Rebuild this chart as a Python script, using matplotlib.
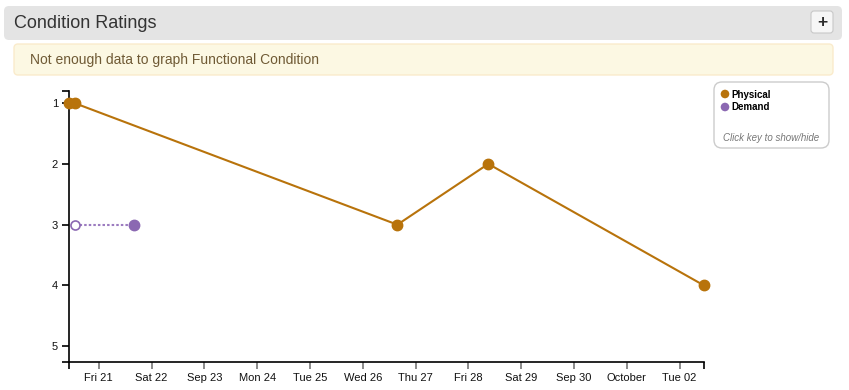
import matplotlib
matplotlib.use("Agg")
import matplotlib.pyplot as plt
import matplotlib.dates as mdates
from matplotlib.patches import FancyBboxPatch, Circle
import pandas as pd

plt.rcParams['font.family'] = ['Liberation Sans', 'DejaVu Sans']

# data
physical_dates = pd.to_datetime(['2018-09-20 10:30', '2018-09-20 13:05', '2018-09-26 15:45',
                                 '2018-09-28 09:05', '2018-10-02 11:08'])
physical_vals = [1, 1, 3, 2, 4]
demand_dates = pd.to_datetime(['2018-09-20 13:05', '2018-09-21 15:55'])
demand_vals = [3, 3]
tick_dates = pd.date_range('2018-09-21', '2018-10-02', freq='D')
tick_labels = ['Fri 21', 'Sat 22', 'Sep 23', 'Mon 24', 'Tue 25', 'Wed 26', 'Thu 27',
               'Fri 28', 'Sat 29', 'Sep 30', 'October', 'Tue 02']
y_ticks = [1, 2, 3, 4, 5]

c_phys = '#b8730b'
c_dem = '#8b68b2'

W, H = 849, 390
fig = plt.figure(figsize=(W / 100, H / 100), dpi=100)

# page decoration in pixel coords
bg = fig.add_axes([0, 0, 1, 1], zorder=0)
bg.set_xlim(0, W)
bg.set_ylim(H, 0)
bg.axis('off')
bg.add_patch(FancyBboxPatch((4, 6), 838, 34, boxstyle='round,pad=0,rounding_size=5',
                            fc='#e4e4e4', ec='none'))
bg.text(14, 23, 'Condition Ratings', fontsize=13, color='#333333', va='center')
bg.add_patch(FancyBboxPatch((811, 11), 22, 22, boxstyle='round,pad=0,rounding_size=3',
                            fc='#f6f6f6', ec='#c8c8c8', lw=0.8))
bg.text(822, 22, '+', fontsize=12.5, fontweight='bold', color='#2a2a2a', ha='center', va='center')
bg.add_patch(FancyBboxPatch((14, 44), 819, 31, boxstyle='round,pad=0,rounding_size=4',
                            fc='#fcf8e3', ec='#faebcc', lw=1))
bg.text(30, 60, 'Not enough data to graph Functional Condition', fontsize=10,
        color='#6f5a35', va='center')

# legend box
bg.add_patch(FancyBboxPatch((714, 82), 115, 66, boxstyle='round,pad=0,rounding_size=8',
                            fc='white', ec='#cccccc', lw=1))
bg.add_patch(Circle((725, 94), 4.3, fc=c_phys, ec='none'))
bg.text(731, 94.5, 'Physical', fontsize=7, fontweight='bold', color='black', va='center')
bg.add_patch(Circle((725, 107), 4.3, fc=c_dem, ec='none'))
bg.text(731, 107.5, 'Demand', fontsize=7, fontweight='bold', color='black', va='center')
bg.text(771, 138, 'Click key to show/hide', fontsize=7, style='italic', color='#777777',
        ha='center', va='center')

# chart
ax = fig.add_axes([69 / W, 1 - 362 / H, (704 - 69) / W, (362 - 91) / H], zorder=1)
ax.patch.set_alpha(0)
ax.plot(physical_dates, physical_vals, color=c_phys, lw=1.5, marker='o', ms=7.5,
        mec=c_phys, mfc=c_phys, clip_on=False, zorder=3)
ax.plot(demand_dates, demand_vals, color='#9c7cc0', lw=1.5, ls=(0, (1.2, 1)), clip_on=False, zorder=2)
ax.plot(demand_dates[:1], demand_vals[:1], 'o', ms=6.5, mfc='white', mec=c_dem, mew=1.2,
        clip_on=False, zorder=4)
ax.plot(demand_dates[1:], demand_vals[1:], 'o', ms=7.5, mfc=c_dem, mec=c_dem,
        clip_on=False, zorder=4)

x0, x1 = min(physical_dates.min(), demand_dates.min()), max(physical_dates.max(), demand_dates.max())
ax.set_xlim(x0, x1)
ax.set_ylim(5.26, 0.80)

ax.set_xticks(tick_dates)
ax.set_xticklabels(tick_labels)
ax.set_yticks(y_ticks)
ax.set_yticklabels([str(v) for v in y_ticks])
ax.set_xticks([mdates.date2num(x0), mdates.date2num(x1)], minor=True)
ax.set_yticks([0.80, 5.26], minor=True)

for side in ['top', 'right']:
    ax.spines[side].set_visible(False)
for side in ['left', 'bottom']:
    ax.spines[side].set_color('black')
    ax.spines[side].set_linewidth(1.2)

ax.tick_params(axis='x', which='both', length=5, width=1.2, color='#777777', labelsize=8,
               pad=3, labelcolor='#111111')
ax.tick_params(axis='x', which='minor', color='black')
ax.tick_params(axis='y', which='both', length=5, width=1.2, color='black', labelsize=8,
               pad=3, labelcolor='#111111')

fig.savefig('out.png', dpi=100)
